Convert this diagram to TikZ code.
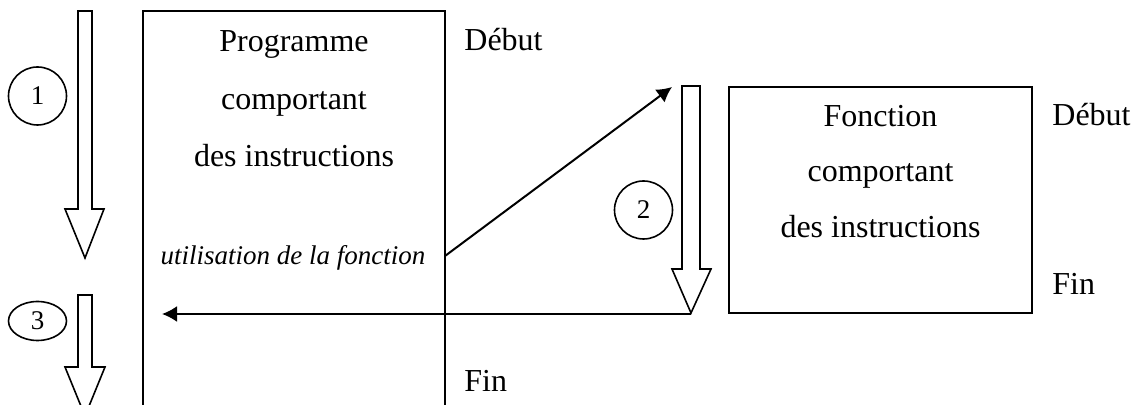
\documentclass[tikz,border=0pt]{standalone}
\usepackage{fontspec}
\setmainfont{Liberation Serif}
\usetikzlibrary{arrows.meta, positioning, shapes.geometric}

\begin{document}
\begin{tikzpicture}[
    x=0.5pt, y=-0.5pt,
    box/.style={rectangle, draw=black, line width=1pt, inner sep=0pt, minimum width=151pt},
    txt/.style={anchor=base, inner sep=0pt, font=\fontsize{16}{19}\selectfont},
    side/.style={anchor=base west, inner sep=0pt, font=\fontsize{16}{19}\selectfont},
    usage/.style={anchor=base, inner sep=0pt, font=\fontsize{13.5}{16}\selectfont\itshape},
    num/.style={circle, draw=black, line width=0.8pt, minimum size=29pt, inner sep=0pt, font=\fontsize{13.5}{16}\selectfont},
    hollow/.style={draw=black, line width=0.8pt, fill=white, line join=miter},
    arr/.style={draw=black, line width=1pt, -{Latex[length=7.5pt, width=8pt]}}
]
    \clip (0,0) rectangle (1137,405);

    % Boxes
    \node[box, minimum height=205pt] (prog) at (294,216) {};
    \node[box, minimum width=151.5pt, minimum height=113pt] (fonc) at (880.5,200) {};

    % Texts of the program
    \node[txt] (prog1) at (294,52) {Programme};
    \node[txt] (prog2) at (294,110) {comportant};
    \node[txt] (prog3) at (294,167) {des instructions};
    \node[usage] (appelfn) at (293,265) {utilisation de la fonction};
    \node[side] (debutprog) at (464,51) {Début};
    \node[side] (finprog) at (464,392) {Fin};

    % Texts of the function
    \node[txt] (fonc1) at (880.5,127) {Fonction};
    \node[txt] (fonc2) at (880.5,182) {comportant};
    \node[txt] (fonc3) at (880.5,238) {des instructions};
    \node[side] (debutfonc) at (1052,126) {Début};
    \node[side] (finfonc) at (1052,295) {Fin};

    % Steps
    \node[num] (n1) at (37.5,96) {1};
    \node[num] (n2) at (643.5,210) {2};
    \node[ellipse, draw=black, line width=0.8pt, minimum width=29pt, minimum height=19.5pt, inner sep=0pt, font=\fontsize{13.5}{16}\selectfont] (n3) at (37.5,321) {3};

    % Hollow arrows
    \draw[hollow] (78,11) -- (92,11) -- (92,209) -- (104,209) -- (85,258) -- (65,209) -- (78,209) -- cycle;
    \draw[hollow] (682,86) -- (700,86) -- (700,269) -- (711,269) -- (691,313) -- (672,269) -- (682,269) -- cycle;
    \draw[hollow] (78,295) -- (92,295) -- (92,367) -- (105,367) -- (85,416) -- (65,367) -- (78,367) -- cycle;

    % Connectors
    \coordinate (appel) at (445,256);
    \coordinate (entree) at (672,87);
    \coordinate (retour) at (691,314);
    \coordinate (suite) at (162,314);
    \draw[arr] (appel) -- (entree);
    \draw[arr] (retour) -- (suite);
\end{tikzpicture}
\end{document}
